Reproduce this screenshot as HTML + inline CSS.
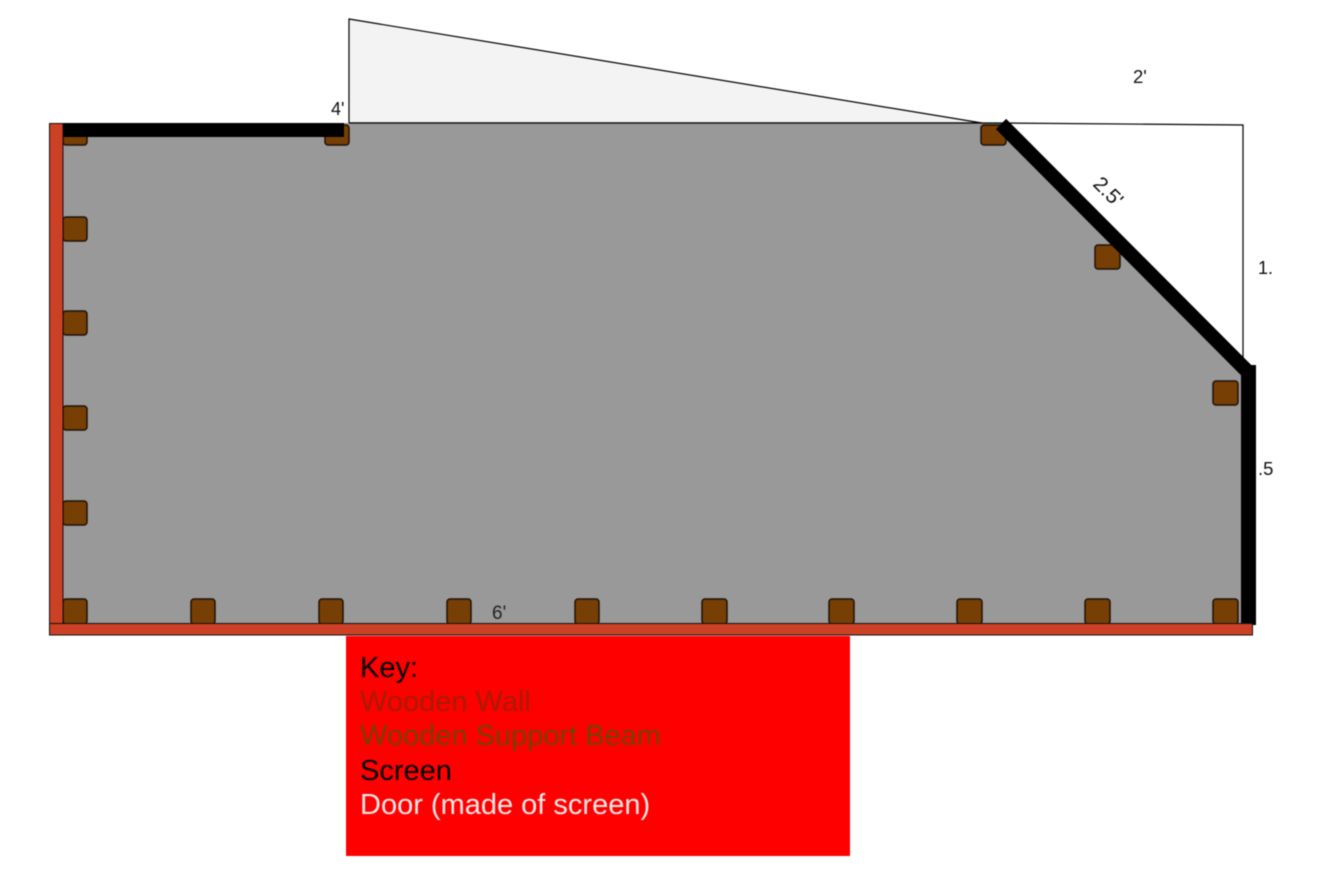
<!DOCTYPE html>
<html>
<head>
<meta charset="utf-8">
<style>
html,body{margin:0;padding:0;background:#fff;width:1330px;height:878px;overflow:hidden}
svg{display:block;filter:blur(0.6px)}
text{font-family:"Liberation Sans",sans-serif}
</style>
</head>
<body>
<svg width="1330" height="878" viewBox="0 0 1330 878" xmlns="http://www.w3.org/2000/svg">
<rect width="1330" height="878" fill="#fff"/>
<polygon points="349,19 349,123 982,123" fill="#f3f3f3" stroke="#000" stroke-width="1.200"/>
<polygon points="63,123 1003,123 1243,366 1243,623 63,623" fill="#999"/>
<polyline points="349,123 1003,123 1243,125 1243,368" fill="none" stroke="#000" stroke-width="1.200"/>
<g fill="#783f04" stroke="#1c1208" stroke-width="1.500">
<rect x="63" y="125" width="24" height="20" rx="3"/>
<rect x="325" y="125" width="24" height="20" rx="3"/>
<rect x="981" y="125" width="25" height="20" rx="3"/>
<rect x="1095" y="245" width="25" height="24" rx="3"/>
<rect x="1213" y="381" width="25" height="24" rx="3"/>
<rect x="63" y="217" width="24" height="24" rx="3"/>
<rect x="63" y="311" width="24" height="24" rx="3"/>
<rect x="63" y="406" width="24" height="24" rx="3"/>
<rect x="63" y="501" width="24" height="24" rx="3"/>
<rect x="63" y="599" width="24" height="25" rx="3"/>
<rect x="191" y="599" width="24" height="25" rx="3"/>
<rect x="319" y="599" width="24" height="25" rx="3"/>
<rect x="447" y="599" width="24" height="25" rx="3"/>
<rect x="575" y="599" width="24" height="25" rx="3"/>
<rect x="702" y="599" width="25" height="25" rx="3"/>
<rect x="829" y="599" width="25" height="25" rx="3"/>
<rect x="957" y="599" width="25" height="25" rx="3"/>
<rect x="1085" y="599" width="25" height="25" rx="3"/>
<rect x="1213" y="599" width="25" height="25" rx="3"/>
</g>
<rect x="62" y="123" width="282" height="14" fill="#000"/>
<line x1="1001" y1="124" x2="1248" y2="372" stroke="#000" stroke-width="14.500"/>
<rect x="1241" y="365" width="15" height="260" fill="#000"/>
<rect x="49.500" y="123.500" width="13.500" height="511" fill="#cc4125" stroke="#111" stroke-width="1"/>
<rect x="49.500" y="623.500" width="1203" height="11.500" fill="#cc4125" stroke="#111" stroke-width="1"/>
<rect x="346" y="636" width="504" height="220" fill="#f00"/>
<text x="331" y="115" font-size="18" fill="#111">4'</text>
<text x="1133" y="83" font-size="18.500" fill="#111">2'</text>
<text x="1258" y="274" font-size="18" fill="#111">1.</text>
<text x="1258" y="475" font-size="18.500" fill="#111">.5</text>
<text x="492" y="619" font-size="19" fill="#222">6'</text>
<text transform="translate(1092,185) rotate(45)" font-size="20.500" fill="#111">2.5'</text>
<text x="360" y="677" font-size="29" fill="#000">Key:</text>
<text x="360" y="711" font-size="29" fill="#a61c00">Wooden Wall</text>
<text x="360" y="745" font-size="29" fill="#783f04">Wooden Support Beam</text>
<text x="360" y="780" font-size="29" fill="#000">Screen</text>
<text x="360" y="814" font-size="29" fill="#ffe6e6">Door (made of screen)</text>
</svg>
</body>
</html>
